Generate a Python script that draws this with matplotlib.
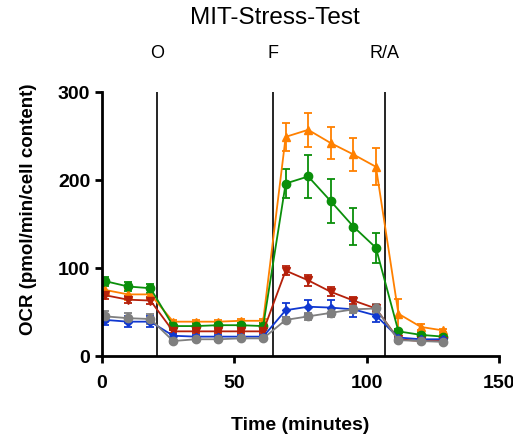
import matplotlib
matplotlib.use("Agg")
import matplotlib.pyplot as plt

plt.rcParams['font.family'] = ['Liberation Sans', 'DejaVu Sans']

# measurement times (minutes)
time = [1.3, 9.8, 18.3, 26.9, 35.4, 43.9, 52.4, 60.9,
        69.4, 77.9, 86.4, 95.0, 103.5, 112.0, 120.5, 129.0]

# injection times and labels
inj_t = [20.8, 64.6, 106.9]
inj_lab = ['O', 'F', 'R/A']

orange = [75, 70, 70, 39, 39, 39, 40, 40, 249, 257, 242, 229, 215, 48, 33, 29]
orange_err = [7, 6, 6, 2, 2, 2, 2, 2, 16, 19, 18, 19, 21, 17, 3, 2]

green = [85, 79, 77, 34, 34, 35, 35, 34, 196, 204, 176, 147, 123, 28, 24, 22]
green_err = [5, 5, 5, 3, 3, 3, 3, 3, 16, 24, 25, 21, 17, 3, 3, 2]

red = [69, 64, 63, 28, 28, 28, 28, 28, 97, 86, 73, 63, 54, 19, 17, 17]
red_err = [4, 4, 4, 2, 2, 2, 2, 2, 5, 6, 5, 4, 3, 2, 2, 2]

blue = [41, 39, 39, 23, 22, 22, 22, 22, 52, 56, 55, 53, 46, 21, 19, 19]
blue_err = [6, 6, 6, 2, 2, 2, 2, 2, 8, 8, 9, 9, 7, 2, 2, 2]

gray = [45, 43, 42, 17, 19, 19, 20, 20, 41, 45, 49, 53, 54, 18, 17, 16]
gray_err = [6, 6, 6, 2, 2, 2, 2, 2, 3, 4, 5, 4, 5, 2, 2, 2]

series = [
    (orange, orange_err, '#ff8000', '^'),
    (green, green_err, '#0a8f0a', 'o'),
    (red, red_err, '#b5200a', 'v'),
    (blue, blue_err, '#1038d0', 'D'),
    (gray, gray_err, '#7f7f7f', 'o'),
]

fig = plt.figure(figsize=(5.13, 4.39), dpi=100)
ax = fig.add_axes([0.1988, 0.1868, 0.7739, 0.6014])

for vals, errs, col, mk in series:
    ms = 4.5 if mk == 'D' else 6
    ax.errorbar(time, vals, yerr=errs, color=col, marker=mk, markersize=ms,
                linewidth=1.3, elinewidth=1.3, capsize=3, capthick=1.3)

for t, lab in zip(inj_t, inj_lab):
    ax.axvline(t, color='black', linewidth=1.2)
    ax.text(t, 345, lab, ha='center', va='center', fontsize=13, clip_on=False)

ax.set_xlim(0, 150)
ax.set_ylim(0, 300)
ax.set_xticks([0, 50, 100, 150])
ax.set_yticks([0, 100, 200, 300])
for s in ['top', 'right']:
    ax.spines[s].set_visible(False)
for s in ['left', 'bottom']:
    ax.spines[s].set_linewidth(2)
ax.tick_params(width=2, length=5, labelsize=14)
ax.tick_params(axis='x', pad=8)
for lbl in ax.get_xticklabels() + ax.get_yticklabels():
    lbl.set_fontweight('bold')

ax.set_xlabel('Time (minutes)', fontsize=14, fontweight='bold', labelpad=18)
ax.set_ylabel('OCR (pmol/min/cell content)', fontsize=13.5, fontweight='bold')
ax.yaxis.set_label_coords(-0.163, 0.56)
fig.text(0.535, 0.958, 'MIT-Stress-Test', ha='center', va='center', fontsize=17.5)

fig.savefig('out.png', dpi=100)
